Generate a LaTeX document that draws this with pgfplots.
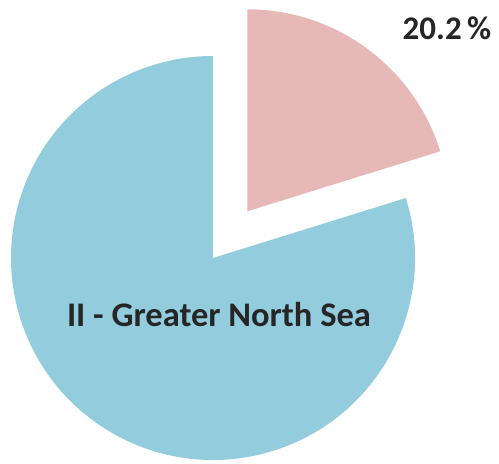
\documentclass[border=0pt]{standalone}
\usepackage{pgfplots}
\usepackage{pgfplotstable}
\pgfplotsset{compat=1.18}
\usepackage{fontspec}
\setmainfont{Carlito}

\definecolor{seablue}{HTML}{93CDDD}
\definecolor{slicepink}{HTML}{E6B9B8}
\definecolor{labeltext}{HTML}{262626}

% share of each slice, in percent
\pgfplotstableread{
name  value
rest  79.8
north 20.2
}\piedata

\begin{document}
\begin{tikzpicture}
\pgfplotstablegetelem{0}{value}\of\piedata \let\vrest\pgfplotsretval
\pgfplotstablegetelem{1}{value}\of\piedata \let\vnorth\pgfplotsretval
\pgfmathsetmacro{\aend}{90-3.6*\vnorth}   % pink slice runs clockwise from 90 deg
\pgfmathsetmacro{\amid}{90-1.8*\vnorth}
\pgfmathsetmacro{\rr}{202}
\begin{axis}[
    name=ax,
    x=1pt, y=1pt,
    xmin=0, xmax=499, ymin=0, ymax=464,
    hide axis, clip=false,
]
    % big slice
    \fill[seablue] (axis cs:213,206) -- ++(\aend:\rr pt)
        arc[start angle=\aend, end angle=-270, radius=\rr pt] -- cycle;
    % exploded slice
    \fill[slicepink] (axis cs:213,206) ++(\amid:58pt)
        -- ++(90:\rr pt) arc[start angle=90, end angle=\aend, radius=\rr pt] -- cycle;
    \node[anchor=base, text=labeltext, font=\fontsize{34.5}{40}\selectfont\bfseries]
        at (axis cs:219,137) {II - Greater North Sea};
    \node[anchor=base, text=labeltext, font=\fontsize{33}{40}\selectfont\bfseries]
        at (axis cs:447,424) {\vnorth\,\%};
\end{axis}
\pgfresetboundingbox
\path (ax.south west) rectangle (ax.north east);
\end{tikzpicture}
\end{document}
